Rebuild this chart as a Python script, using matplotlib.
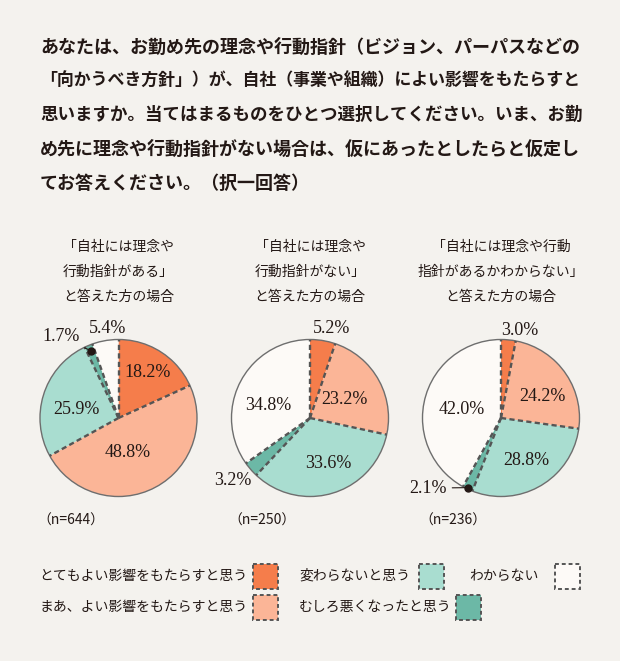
import numpy as np
import matplotlib.pyplot as plt
from matplotlib.patches import Rectangle, Circle

plt.rcParams['font.family'] = ['Noto Sans CJK JP', 'DejaVu Sans']

# ---- data ----
question = [
    'あなたは、お勤め先の理念や行動指針（ビジョン、パーパスなどの',
    '「向かうべき方針」）が、自社（事業や組織）によい影響をもたらすと',
    '思いますか。当てはまるものをひとつ選択してください。いま、お勤',
    'め先に理念や行動指針がない場合は、仮にあったとしたらと仮定し',
    'てお答えください。（択一回答）',
]
categories = ['とてもよい影響をもたらすと思う', 'まあ、よい影響をもたらすと思う',
              '変わらないと思う', 'むしろ悪くなったと思う', 'わからない']
has_policy = [18.2, 48.8, 25.9, 1.7, 5.4]
no_policy = [5.2, 23.2, 33.6, 3.2, 34.8]
unknown_policy = [3.0, 24.2, 28.8, 2.1, 42.0]
group_titles = [
    ['「自社には理念や', '行動指針がある」', 'と答えた方の場合'],
    ['「自社には理念や', '行動指針がない」', 'と答えた方の場合'],
    ['「自社には理念や行動', '指針があるかわからない」', 'と答えた方の場合'],
]
group_n = [644, 250, 236]

# ---- style ----
W, H = 620, 661
bg = '#f4f2ee'
ink = '#231815'
colors = ['#f57d4b', '#fbb597', '#a9ddd0', '#6cb8a6', '#fdfaf7']
edge = '#555555'
centers = [(118.5, 418), (310, 418), (501, 418)]
R = 78.5
# (label radius, angle shift in deg, dot radius or None) per wedge
label_place = [
    [(0.69, 0, None), (0.45, 11, None), (0.55, -7, None), (1.27, -13, 0.93), (1.15, 3, None)],
    [(1.17, 4, None), (0.50, 2, None), (0.62, -5, None), (1.27, 2, None), (0.55, -11, None)],
    [(1.14, 7, None), (0.60, 8, None), (0.63, 0, None), (1.29, 21, 0.98), (0.51, -2, None)],
]
legend_pos = [(39, 253, 576), (39, 253, 607), (299, 419, 576), (299, 456, 607), (469, 555, 576)]

fig = plt.figure(figsize=(W / 100, H / 100), dpi=100, facecolor=bg)
base = fig.add_axes([0, 0, 1, 1])
base.set_xlim(0, W)
base.set_ylim(H, 0)
base.axis('off')

# question text
for i, line in enumerate(question):
    fs = min(13, 542 / (len(line) * 100 / 72))
    base.text(40, 47 + 34 * i, line, fontsize=fs, fontweight='bold', color=ink,
              ha='left', va='center')

series = [has_policy, no_policy, unknown_policy]
pad = 1.6
for k, vals in enumerate(series):
    cx, cy = centers[k]
    for j, t in enumerate(group_titles[k]):
        base.text(cx, 247 + 25 * j, t, fontsize=10, color=ink, ha='center', va='center')
    base.text(cx - 48, 521, f'（n={group_n[k]}）', fontsize=10, color=ink,
              ha='center', va='center')

    ax = fig.add_axes([(cx - R * pad) / W, 1 - (cy + R * pad) / H,
                       2 * R * pad / W, 2 * R * pad / H])
    ax.pie(vals, colors=colors, startangle=90, counterclock=False, radius=1,
           wedgeprops=dict(linewidth=0))
    ax.set_xlim(-pad, pad)
    ax.set_ylim(-pad, pad)
    ax.axis('off')
    total = sum(vals)
    cum = np.concatenate([[0], np.cumsum(vals)]) / total * 360
    for a in cum[:-1]:
        th = np.radians(a)
        ax.plot([0, np.sin(th)], [0, np.cos(th)], color=edge, lw=1.7,
                ls=(0, (2.2, 1.4)), solid_capstyle='butt')
    ax.add_patch(Circle((0, 0), 1, fill=False, ec='#6e6e6e', lw=1.0))

    for i, v in enumerate(vals):
        mid = (cum[i] + cum[i + 1]) / 2
        r, shift, rdot = label_place[k][i]
        th = np.radians(mid + shift)
        lx, ly = r * np.sin(th), r * np.cos(th)
        txt = f'{v:.1f}%'
        if rdot is None:
            ax.text(lx, ly, txt, fontsize=13, family='Liberation Serif', color=ink,
                    ha='center', va='center')
        else:
            tm = np.radians(mid)
            dx, dy = rdot * np.sin(tm), rdot * np.cos(tm)
            ax.annotate(txt, xy=(dx, dy), xytext=(lx, ly), fontsize=13,
                        family='Liberation Serif', color=ink, ha='center', va='center',
                        arrowprops=dict(arrowstyle='-', color=ink, lw=0.8,
                                        shrinkA=2, shrinkB=0))
            ax.plot(dx, dy, 'o', color=ink, ms=5, zorder=5)

# legend
for i, name in enumerate(categories):
    tx, bx, y = legend_pos[i]
    base.text(tx, y, name, fontsize=10, color=ink, ha='left', va='center')
    base.add_patch(Rectangle((bx, y - 12.5), 25, 25, facecolor=colors[i],
                             edgecolor=edge, lw=1.4, ls=(0, (2, 1.5))))

fig.savefig('out.png', dpi=100, facecolor=bg)
